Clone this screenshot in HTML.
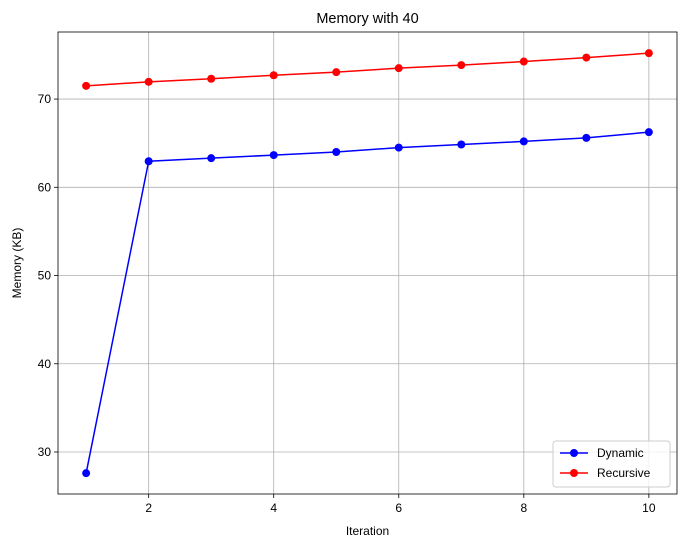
<!DOCTYPE html>
<html><head><meta charset="utf-8"><style>
body{margin:0;background:#fff;font-family:"Liberation Sans","DejaVu Sans",sans-serif}
</style></head><body>
<svg id="chart" width="686" height="547" xmlns="http://www.w3.org/2000/svg"></svg>
<script>
const iterations=[1,2,3,4,5,6,7,8,9,10];
const dynamicValues=[27.6,62.95,63.3,63.65,64.0,64.5,64.85,65.2,65.6,66.25];
const recursiveValues=[71.5,71.95,72.3,72.7,73.05,73.5,73.85,74.25,74.7,75.2];
const xTicks=[2,4,6,8,10];
const yTicks=[30,40,50,60,70];
const L=58,R=677,T=32,B=494;
const xMin=0.55,xMax=10.45,yMin=25.24,yMax=77.6;
const sx=v=>L+(v-xMin)/(xMax-xMin)*(R-L);
const sy=v=>B-(v-yMin)/(yMax-yMin)*(B-T);
const svg=document.getElementById('chart');
const NS='http://www.w3.org/2000/svg';
function mk(tag,attrs,name){const e=document.createElementNS(NS,tag);for(const k in attrs)e.setAttribute(k,attrs[k]);


svg.appendChild(e);return e;}
// grid
xTicks.forEach(t=>{mk('line',{x1:sx(t),x2:sx(t),y1:T,y2:B,stroke:'#b0b0b0','stroke-width':0.8},'x-grid-line');
mk('line',{x1:sx(t),x2:sx(t),y1:B,y2:B+4,stroke:'#000','stroke-width':0.8},'x-tick');
const tx=mk('text',{x:sx(t),y:B+18,'text-anchor':'middle','font-size':12},'x-tick-label');tx.textContent=t;});
yTicks.forEach(t=>{mk('line',{x1:L,x2:R,y1:sy(t),y2:sy(t),stroke:'#b0b0b0','stroke-width':0.8},'y-grid-line');
mk('line',{x1:L-4,x2:L,y1:sy(t),y2:sy(t),stroke:'#000','stroke-width':0.8},'y-tick');
const tx=mk('text',{x:L-7,y:sy(t)+4,'text-anchor':'end','font-size':12},'y-tick-label');tx.textContent=t;});
mk('rect',{x:L,y:T,width:R-L,height:B-T,fill:'none',stroke:'#000','stroke-width':0.8},'plot-frame');
function series(vals,color,name){
mk('polyline',{points:iterations.map((x,i)=>sx(x)+','+sy(vals[i])).join(' '),fill:'none',stroke:color,'stroke-width':1.5},name+'-line');
iterations.forEach((x,i)=>mk('circle',{cx:sx(x),cy:sy(vals[i]),r:4,fill:color},name+'-point'));}
series(dynamicValues,'#0000ff','dynamic');
series(recursiveValues,'#ff0000','recursive');
let t=mk('text',{x:(L+R)/2,y:23,'text-anchor':'middle','font-size':14.5},'chart-title');t.textContent='Memory with 40';
t=mk('text',{x:(L+R)/2,y:535,'text-anchor':'middle','font-size':12},'x-axis-title');t.textContent='Iteration';
t=mk('text',{x:21,y:(T+B)/2,'text-anchor':'middle','font-size':12,transform:'rotate(-90 21 '+(T+B)/2+')'},'y-axis-title');t.textContent='Memory (KB)';
// legend
mk('rect',{x:553,y:441,width:117,height:46,rx:3,fill:'#fff',stroke:'#ccc','fill-opacity':0.8},'legend-box');
[['Dynamic','#0000ff',453],['Recursive','#ff0000',473]].forEach(([lab,c,y])=>{
mk('line',{x1:560,x2:588,y1:y,y2:y,stroke:c,'stroke-width':1.5},'legend-line');
mk('circle',{cx:574,cy:y,r:4,fill:c},'legend-marker');
const tt=mk('text',{x:597,y:y+4,'font-size':12},'legend-entry');tt.textContent=lab;});
</script>
</body></html>
